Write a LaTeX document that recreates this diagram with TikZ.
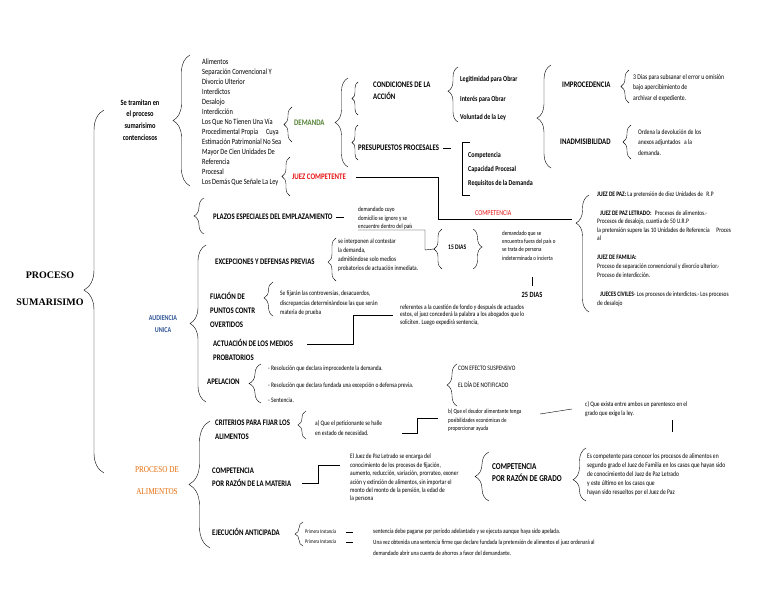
\documentclass[tikz,border=0pt]{standalone}
\usepackage{fontspec}
\setmainfont[FakeStretch=0.8]{Carlito}
\newfontfamily\titlefont{Liberation Serif}
\newfontfamily\alimfont[FakeStretch=0.8]{Liberation Serif}
\usetikzlibrary{decorations.pathreplacing}
\definecolor{demanda}{RGB}{84,130,53}
\definecolor{juez}{RGB}{230,20,20}
\definecolor{audiencia}{RGB}{47,84,150}
\definecolor{alimentos}{RGB}{228,108,10}
\newcommand{\fs}[2]{\fontsize{#1}{#2}\selectfont}
\tikzset{
  head/.style={anchor=west,font=\bfseries\fs{8.5}{13}},
  note/.style={anchor=west,font=\fs{6.8}{9}},
  lbrace/.style={decorate,decoration={brace,amplitude=#1}},
}
\begin{document}
\begin{tikzpicture}[x=1pt,y=-1pt,every node/.style={inner sep=0pt,align=left,anchor=west}]
\useasboundingbox (0,0) rectangle (768,594);
\fill[white] (0,0) rectangle (768,594);

\node[font=\titlefont\bfseries\fs{10}{27},align=center,anchor=center] (proc) at (50,289) {PROCESO\\SUMARISIMO};
\draw[lbrace=20pt,decoration={aspect=0.504}] (104,473) -- (104,110);

\node[font=\bfseries\fs{8}{11.7},align=center,anchor=center] (tram) at (140,120) {Se tramitan en\\el proceso\\sumarisimo\\contenciosos};
\draw[lbrace=17pt] (190,186) -- (190,55);
\node[font=\fs{8}{10}] (lista) at (202,122) {Alimentos\\Separación Convencional Y\\Divorcio Ulterior\\Interdictos\\Desalojo\\Interdicción\\Los Que No Tienen Una Vía\\Procedimental Propia\quad Cuya\\Estimación Patrimonial No Sea\\Mayor De Cien Unidades De\\Referencia\\Procesal\\Los Demás Que Señale La Ley};

\draw[lbrace=8pt] (292,142) -- (292,107);
\node[head,text=demanda] (dem) at (294,123) {DEMANDA};
\draw[lbrace=8pt] (290,196) -- (290,157);
\node[head,text=juez] (jc) at (292,177) {JUEZ COMPETENTE};

\draw[lbrace=13pt] (348,167) -- (348,78);
\draw[lbrace=6pt] (358,115) -- (358,82);
\node[head,font=\bfseries\fs{8.5}{12}] (cond) at (373,91) {CONDICIONES DE LA\\ACCIÓN};
\draw[lbrace=6pt] (358,160) -- (358,125);
\node[head] (pres) at (358,148) {PRESUPUESTOS PROCESALES};
\draw ([xshift=4pt]pres.east) -- ([xshift=12pt]pres.east);
\draw (470,142) -- (462,142) -- (462,195) -- (470,195);
\node[font=\bfseries\fs{7.5}{14}] (comp) at (468,169) {Competencia\\Capacidad Procesal\\Requisitos de la Demanda};

\draw[lbrace=10pt,decoration={aspect=0.56}] (458,122) -- (458,67);
\node[font=\bfseries\fs{7.5}{9}] (leg) at (460,79) {Legitimidad para Obrar};
\node[font=\bfseries\fs{7.5}{9}] (inter) at (460,99) {Interés para Obrar};
\node[font=\bfseries\fs{7.5}{9}] (vol) at (460,117) {Voluntad de la Ley};

\draw[lbrace=14pt,decoration={aspect=0.485}] (551,168) -- (551,65);
\node[head] (impr) at (562,85) {IMPROCEDENCIA};
\draw[lbrace=8pt] (629,103) -- (629,70);
\node[note,font=\fs{7.2}{10.5}] (sub) at (633,88) {3 Días para subsanar el error u omisión\\bajo apercibimiento de\\archivar el expediente.};
\node[head] (inad) at (560,142) {INADMISIBILIDAD};
\draw[lbrace=8pt] (631,159) -- (631,125);
\node[note,font=\fs{7}{10.5}] (dev) at (638,142.5) {Ordena la devolución de los\\anexos adjuntados\enspace a la\\demanda.};

\coordinate (jpz) at (572,219);
\draw ([xshift=10pt]jc.east) -| (438,219) -- (jpz);
\node[text=juez,font=\fs{7.5}{9}] (compr) at (475,213) {COMPETENCIA};
\draw[lbrace=13pt,decoration={aspect=0.76}] (589,312) -- (589,195);
\node[note,font=\fs{6.8}{9}] (jpaz) at (597,195) {\textbf{JUEZ DE PAZ:} La pretensión de diez Unidades de\enspace R.P};
\node[note,font=\fs{6.8}{8.4}] (jpl) at (597,225.5) {\hspace{3pt}\textbf{JUEZ DE PAZ LETRADO:}\enspace Procesos de alimentos.-\\Procesos de desalojo, cuantía de 50 U.R.P\\la pretensión supere las 10 Unidades de Referencia\quad Proces\\al};
\node[note,font=\fs{6.8}{9}] (jfam) at (597,266) {\textbf{JUEZ DE FAMILIA:}\\Proceso de separación convencional y divorcio ulterior.-\\Proceso de interdicción.};
\node[note,font=\fs{6.8}{8.5}] (jciv) at (597,299) {\hspace{3pt}\textbf{JUECES CIVILES}- Los procesos de interdictos.- Los procesos\\de desalojo};

\draw[lbrace=10pt] (204,234) -- (204,198);
\node[head] (plz) at (213,217) {PLAZOS ESPECIALES DEL EMPLAZAMIENTO};
\draw ([xshift=3pt]plz.east) -- ([xshift=11pt]plz.east);
\node[note,font=\fs{6.5}{8.5}] (ign) at (358,218.5) {demandado cuyo\\domicilio se ignore y se\\encuentre dentro del país};
\coordinate (d15a) at (434,249);
\draw (ign.south west) -- (425,230) -- (425,250) -- (d15a);
\draw[lbrace=8pt] (442,269) -- (442,229);
\node[font=\bfseries\fs{7}{9}] (d15) at (448,247) {15 DIAS};
\draw[lbrace=9pt,decoration={aspect=0.45}] (473,229) -- (473,269);
\node[note,font=\fs{6.3}{8.3}] (fuera) at (502,245.5) {demandado que se\\encuentra fuera del país o\\se trata de persona\\indeterminada o incierta};
\node[font=\bfseries\fs{8}{9},anchor=center] (d25) at (532,295) {25 DIAS};
\draw (532,277) -- (532,286);

\draw[lbrace=16pt] (206,402) -- (206,245);
\node[font=\bfseries\fs{7.5}{12},text=audiencia,align=center,anchor=center] (aud) at (163,324) {AUDIENCIA\\UNICA};
\node[head] (exc) at (215,262) {EXCEPCIONES Y DEFENSAS PREVIAS};
\draw[lbrace=8pt,decoration={aspect=0.44}] (336,281) -- (336,238);
\node[note] (intp) at (338,255.5) {se interponen al contestar\\la demanda,\\admitiéndose solo medios\\probatorios de actuación inmediata.};
\node[head,font=\bfseries\fs{8.5}{14}] (fij) at (210,309.5) {FIJACIÓN DE\\PUNTOS CONTR\\OVERTIDOS};
\draw[lbrace=9pt,decoration={aspect=0.53}] (273,316) -- (273,282);
\node[note,font=\fs{6.8}{9.5}] (contr) at (280,303.5) {Se fijarán las controversias, desacuerdos,\\discrepancias determinándose las que serán\\materia de prueba};
\node[head,font=\bfseries\fs{8.5}{14}] (act) at (213,349.5) {ACTUACIÓN DE LOS MEDIOS\\PROBATORIOS};
\node[note,font=\fs{6.8}{7.5}] (ref) at (400,315) {referentes a la cuestión de fondo y después de actuados\\estos, el juez concederá la palabra a los abogados que lo\\soliciten. Luego expedirá sentencia,};
\draw (307,344) -| (353,315) -- ([xshift=-7pt]ref.west);
\node[head] (apel) at (207,382) {APELACION};
\draw[lbrace=12pt] (261,403) -- (261,364);
\node[note] (r1) at (268,369) {- Resolución que declara improcedente la demanda.};
\node[note] (r2) at (268,386) {- Resolución que declara fundada una excepción o defensa previa.};
\node[note] (r3) at (268,400) {- Sentencia.};
\draw[lbrace=10pt] (457,406) -- (457,364);
\node[note] (susp) at (458,368) {CON EFECTO SUSPENSIVO};
\node[note] (notif) at (458,385) {EL DÍA DE NOTIFICADO};

\node[font=\alimfont\fs{9}{22},text=alimentos,align=center,anchor=center] (alim) at (157,481) {PROCESO DE\\ALIMENTOS};
\draw[lbrace=21pt] (210,548) -- (210,421);
\node[head,font=\bfseries\fs{8.5}{14}] (crit) at (215,430) {CRITERIOS PARA FIJAR LOS\\ALIMENTOS};
\draw[lbrace=8pt] (306,439) -- (306,411);
\node[note,font=\fs{6.8}{10}] (ca) at (315,428) {a) Que el peticionante se halle\\en estado de necesidad.};
\node[note,font=\fs{6.3}{8.5}] (cb) at (448,420.5) {b) Que el deudor alimentante tenga\\posibilidades económicas de\\proporcionar ayuda};
\draw (402,433) -| (417,418) -- ([xshift=-10pt]cb.north west |- 0,418);
\node[note,font=\fs{6.8}{9}] (cc) at (585,409.5) {c) Que exista entre ambos un parentesco en el\\grado que exige la ley.};
\draw (540,414) -- (572,409);
\draw (672,420) -- (672,432);

\node[head,font=\bfseries\fs{8.5}{13}] (mat) at (212,477.5) {COMPETENCIA\\POR RAZÓN DE LA MATERIA};
\draw (302,483) -| (318,465) -- (340,465);
\node[note,font=\fs{6.8}{8.4}] (paz) at (350,478) {El Juez de Paz Letrado se encarga del\\conocimiento de los procesos de fijación,\\aumento, reducción, variación, prorrateo, exoner\\ación y extinción de alimentos, sin importar el\\monto del monto de la pensión, la edad de\\la persona};
\draw[lbrace=14pt] (489,501) -- (489,452);
\node[head,font=\bfseries\fs{9}{12}] (grado) at (492,473) {COMPETENCIA\\POR RAZÓN DE GRADO};
\draw[lbrace=13pt,decoration={aspect=0.4}] (586,501) -- (586,448);
\node[note,font=\fs{7}{9}] (fam) at (587,475) {Es competente para conocer los procesos de alimentos en\\segundo grado el Juez de Familia en los casos que hayan sido\\de conocimiento del Juez de Paz Letrado\\y este último en los casos que\\hayan sido resueltos por el Juez de Paz};

\node[head] (ejec) at (212,532) {EJECUCIÓN ANTICIPADA};
\draw[lbrace=8pt] (303,546) -- (303,522);
\node[font=\fs{5.5}{7}] (pi1) at (305,532) {Primera Instancia};
\node[font=\fs{5.5}{7}] (pi2) at (305,542) {Primera Instancia};
\node[note,font=\fs{6.6}{10}] (adel) at (373,532) {sentencia debe pagarse por período adelantado y se ejecuta aunque haya sido apelada.};
\node[note,font=\fs{6.5}{11}] (ahorro) at (373,547.5) {Una vez obtenida una sentencia firme que declare fundada la pretensión de alimentos el juez ordenará al\\demandado abrir una cuenta de ahorros a favor del demandante.};
\draw ([xshift=10pt]pi1.east) -- ([xshift=-20pt]adel.west);
\draw ([xshift=10pt]pi2.east) -- ([xshift=-20pt]adel.west |- pi2.east);
\end{tikzpicture}
\end{document}
